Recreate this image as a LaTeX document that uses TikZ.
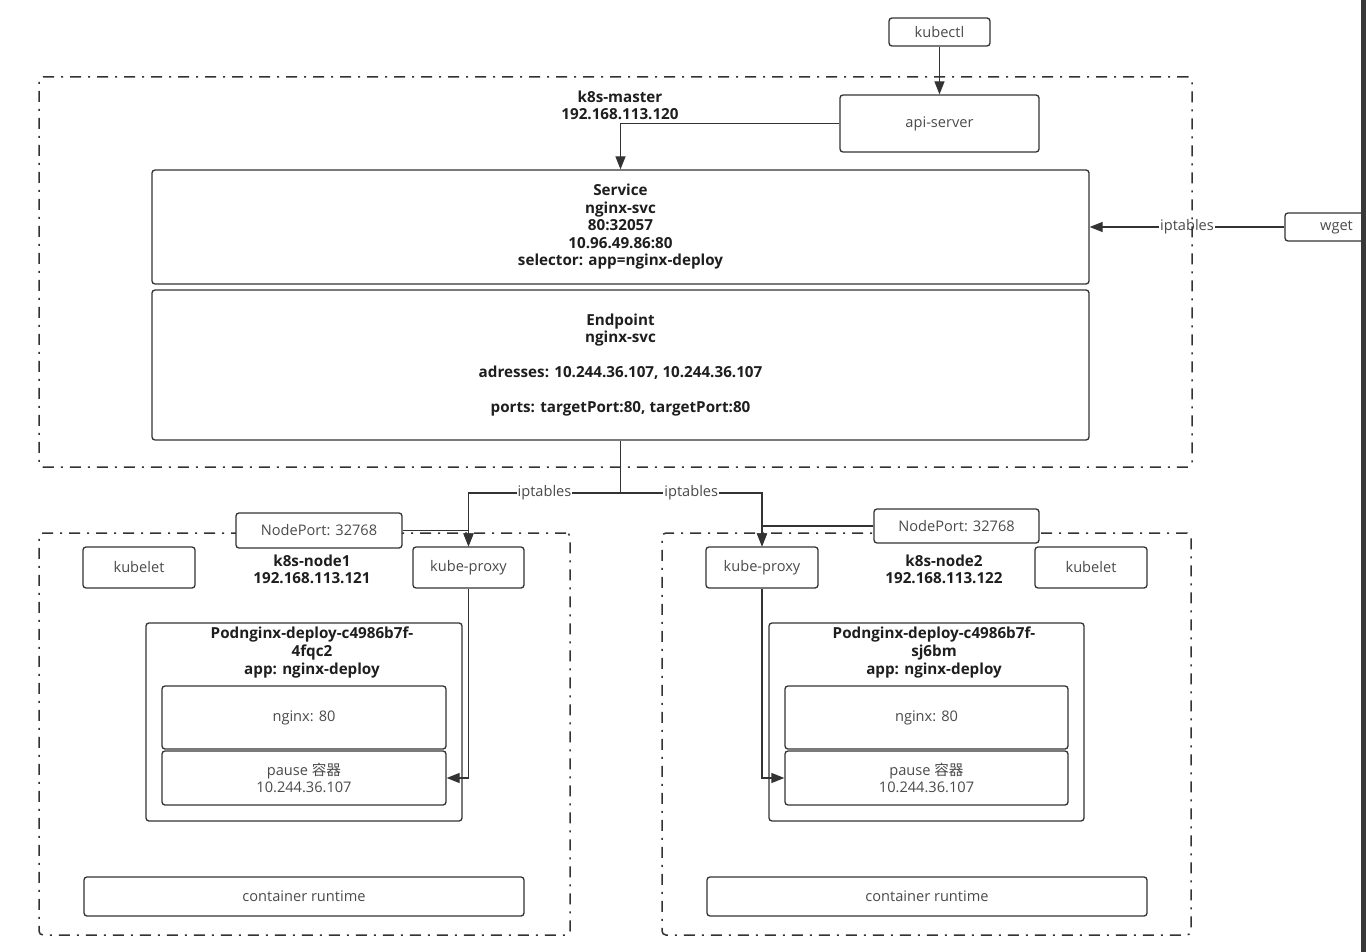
\documentclass[tikz,border=0pt]{standalone}
\usepackage{fontspec}
\setmainfont{Open Sans}
\newfontfamily\cjk{Noto Sans CJK SC}
\usetikzlibrary{arrows.meta}
\definecolor{ln}{HTML}{333333}
\definecolor{tx}{HTML}{4A4A4A}
\definecolor{bt}{HTML}{1E1E1E}
\newcommand\myfs{\fontsize{14.6}{17.5}\selectfont}
\newcommand\mybf{\fontsize{15.2}{17.5}\selectfont\bfseries}
\begin{document}
\begin{tikzpicture}[x=1pt,y=-1pt,
  box/.style={draw=ln, line width=1.3pt, rounded corners=3pt, fill=white, inner sep=0pt, font=\myfs, text=tx, align=center},
  boldbox/.style={box, font=\mybf, text=bt},
  frame/.style={draw=ln, line width=1.5pt, rounded corners=4pt, dash pattern=on 11pt off 7pt on 2pt off 7pt, inner sep=0pt},
  conn/.style={draw=ln, line width=1.3pt, -{Triangle[length=13pt,width=10pt]}},
  plain/.style={draw=ln, line width=1.3pt},
  lbl/.style={fill=white, inner sep=1pt, font=\myfs, text=tx},
  bold/.style={font=\mybf, text=bt, align=center, inner sep=0pt}]
\useasboundingbox (0,0) rectangle (1366,952);
\fill[white] (0,0) rectangle (1366,952);

% frames of worker nodes
\node[frame, minimum width=531pt, minimum height=402pt] (node1) at (304.5,734) {};
\node[frame, minimum width=529pt, minimum height=402pt] (node2) at (926.5,734) {};

% master content
\node[box, minimum width=101pt, minimum height=28pt] (kubectl) at (939.5,32) {kubectl};
\node[box, minimum width=199pt, minimum height=57pt] (api) at (939.5,123.5) {api-server};
\node[bold] (masterlbl) at (620,105.5) {k8s-master\\192.168.113.120};
\node[boldbox, minimum width=937pt, minimum height=114pt] (svc) at (620.5,227)
  {Service\\nginx-svc\\80:32057\\10.96.49.86:80\\selector: app=nginx-deploy};
\node[boldbox, minimum width=937pt, minimum height=150pt] (ep) at (620.5,365)
  {Endpoint\\nginx-svc\\[17.5pt]adresses: 10.244.36.107, 10.244.36.107\\[17.5pt]ports: targetPort:80, targetPort:80};
\node[box, minimum width=103pt, minimum height=28pt, text width=103pt] (wget) at (1336.5,227) {wget};

% node1
\node[box, minimum width=166pt, minimum height=35pt] (np1) at (319,530.5) {NodePort: 32768};
\node[box, minimum width=112pt, minimum height=41pt] (kubelet1) at (139,567.5) {kubelet};
\node[box, minimum width=111pt, minimum height=41pt] (kp1) at (468.5,567.5) {kube-proxy};
\node[bold] (n1lbl) at (312,569.5) {k8s-node1\\192.168.113.121};
\node[box, minimum width=316pt, minimum height=198pt] (pod1) at (304,722) {};
\node[bold, font=\fontsize{15.2}{18}\selectfont\bfseries] (pod1lbl) at (312,653) {Podnginx-deploy-c4986b7f-\\4fqc2\\app: nginx-deploy};
\node[box, minimum width=284pt, minimum height=63pt] (nginx1) at (304,717.5) {nginx: 80};
\node[box, minimum width=284pt, minimum height=54pt] (pause1) at (304,778) {pause {\cjk 容器}\\10.244.36.107};
\node[box, minimum width=440pt, minimum height=39pt] (cr1) at (304,896.5) {container runtime};

% node2
\node[box, minimum width=165pt, minimum height=34pt] (np2) at (956.5,526) {NodePort: 32768};
\node[box, minimum width=112pt, minimum height=41pt] (kp2) at (762,567.5) {kube-proxy};
\node[box, minimum width=112pt, minimum height=41pt] (kubelet2) at (1091,567.5) {kubelet};
\node[bold] (n2lbl) at (944,569.5) {k8s-node2\\192.168.113.122};
\node[box, minimum width=315pt, minimum height=198pt] (pod2) at (926.5,722) {};
\node[bold, font=\fontsize{15.2}{18}\selectfont\bfseries] (pod2lbl) at (934,653) {Podnginx-deploy-c4986b7f-\\sj6bm\\app: nginx-deploy};
\node[box, minimum width=283pt, minimum height=63pt] (nginx2) at (926.5,717.5) {nginx: 80};
\node[box, minimum width=283pt, minimum height=54pt] (pause2) at (926.5,778) {pause {\cjk 容器}\\10.244.36.107};
\node[box, minimum width=440pt, minimum height=39pt] (cr2) at (927,896.5) {container runtime};

% connectors
\draw[conn] (kubectl.south) -- (api.north);
\draw[conn] (api.west) -| (svc.north);
\draw[conn] (wget.west) -- node[lbl] {iptables} (svc.east);
\coordinate (split) at (620.5,493);
\draw[plain] (ep.south) -- (split);
\draw[conn] (split) -- node[lbl] {iptables} (split -| kp1.north) -- (kp1.north);
\draw[conn] (split) -- node[lbl] {iptables} (split -| kp2.north) -- (kp2.north);
\draw[conn] (np1.east) -| (kp1.north);
\draw[conn] (np2.west) -| (kp2.north);
\draw[conn] (kp1.south) |- (pause1.east);
\draw[conn] (kp2.south) |- (pause2.west);

% master frame (drawn over the label)
\node[frame, minimum width=1153pt, minimum height=390pt] (master) at (615.5,272) {};

% right screen edge strip
\fill[black!78] (1361,0) rectangle (1366,952);
\end{tikzpicture}
\end{document}
